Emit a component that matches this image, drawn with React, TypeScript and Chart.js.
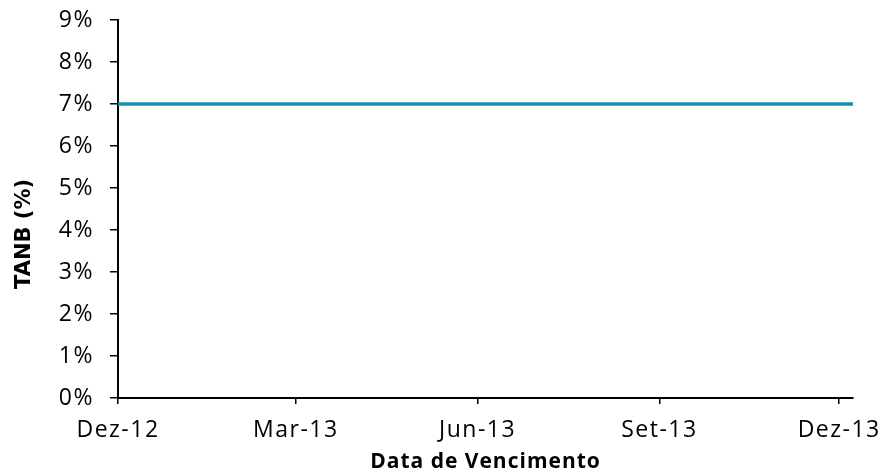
import { useEffect, useRef } from 'react';
import { Chart, registerables } from 'chart.js';
Chart.register(...registerables);

const startDate = '2012-12-01';
const seriesDates = ['2012-12-01', '2013-12-08'];
const seriesValues = [7, 7];
const tickDates = ['2012-12-01', '2013-03-01', '2013-06-01', '2013-09-01', '2013-12-01'];
const tickLabels = ['Dez-12', 'Mar-13', 'Jun-13', 'Set-13', 'Dez-13'];
const yTickValues = [0, 1, 2, 3, 4, 5, 6, 7, 8, 9];
const xTitle = 'Data de Vencimento';
const yTitle = 'TANB (%)';

const FONT = '"Open Sans"';
const dayOf = (s: string) => (Date.parse(s) - Date.parse(startDate)) / 86400000;

const spacingPlugin = {
  id: 'spacing',
  beforeDraw(chart: any) {
    chart.ctx.letterSpacing = '1.5px';
  },
};

const titlePlugin = {
  id: 'customTitles',
  afterDraw(chart: any) {
    const ctx = chart.ctx;
    const area = chart.chartArea;
    ctx.save();
    ctx.fillStyle = '#000';
    ctx.letterSpacing = '1px';
    ctx.font = `bold 21px ${FONT}`;
    ctx.textAlign = 'center';
    ctx.textBaseline = 'alphabetic';
    ctx.fillText(xTitle, (area.left + area.right) / 2, 468);
    ctx.letterSpacing = '0px';
    ctx.font = 'bold 21px "DejaVu Sans"';
    ctx.textBaseline = 'middle';
    ctx.translate(25, 234);
    ctx.rotate(-Math.PI / 2);
    ctx.fillText(yTitle, 0, 0);
    ctx.restore();
  },
};

export default function App() {
  const ref = useRef<HTMLCanvasElement>(null);
  useEffect(() => {
    if (!ref.current) return;
    const chart = new Chart(ref.current, {
      type: 'line',
      data: {
        datasets: [
          {
            data: seriesDates.map((d, i) => ({ x: dayOf(d), y: seriesValues[i] })),
            borderColor: '#1592ad',
            borderWidth: 3.5,
            pointRadius: 0,
            fill: false,
          },
        ],
      },
      options: {
        animation: false,
        responsive: true,
        maintainAspectRatio: false,
        layout: { padding: { top: 20, right: 35, left: 0, bottom: 0 } },
        plugins: { legend: { display: false }, tooltip: { enabled: false } },
        scales: {
          x: {
            type: 'linear',
            min: dayOf(seriesDates[0]),
            max: dayOf(seriesDates[seriesDates.length - 1]),
            afterBuildTicks: (scale: any) => {
              scale.ticks = tickDates.map((d) => ({ value: dayOf(d) }));
            },
            afterFit: (scale: any) => {
              scale.height = 76;
              scale.paddingLeft = 0;
              scale.paddingRight = 0;
            },
            ticks: {
              autoSkip: false,
              maxRotation: 0,
              padding: 13,
              color: '#000',
              font: { family: FONT, size: 23 },
              callback: (v: any) => {
                const i = tickDates.findIndex((d) => dayOf(d) === v);
                return i >= 0 ? tickLabels[i] : '';
              },
            },
            grid: { drawOnChartArea: false, tickLength: 6, color: '#000', lineWidth: 1.5 },
            border: { color: '#000', width: 2 },
          },
          y: {
            min: 0,
            max: 9,
            afterBuildTicks: (scale: any) => {
              scale.ticks = yTickValues.map((v) => ({ value: v }));
            },
            afterFit: (scale: any) => {
              scale.width = 118;
              scale.paddingTop = 0;
              scale.paddingBottom = 0;
            },
            ticks: {
              padding: 16,
              color: '#000',
              font: { family: FONT, size: 23 },
              callback: (v: any) => `${v}%`,
            },
            grid: { drawOnChartArea: false, tickLength: 8, color: '#000', lineWidth: 1.5 },
            border: { color: '#000', width: 2 },
          },
        },
      },
      plugins: [spacingPlugin, titlePlugin],
    } as any);
    return () => chart.destroy();
  }, []);
  return (
    <div style={{ position: 'absolute', left: 0, top: 0, width: 888, height: 474, background: '#fff' }}>
      <canvas ref={ref} />
    </div>
  );
}
